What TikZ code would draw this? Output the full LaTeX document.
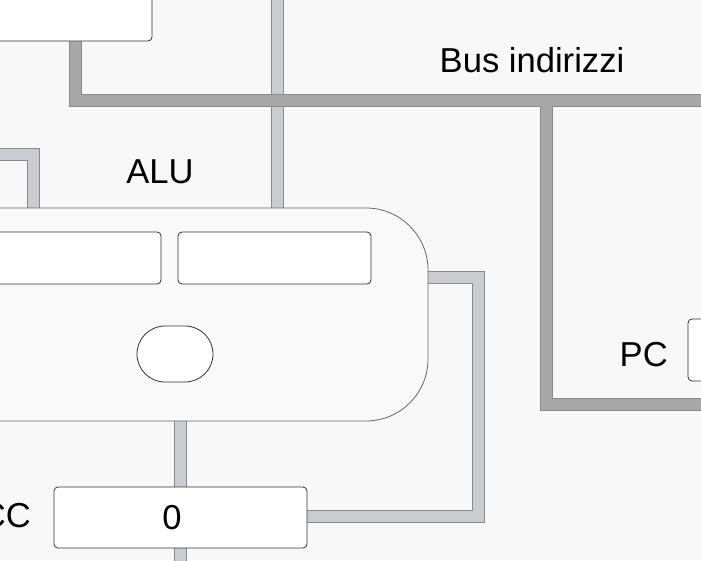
\documentclass[tikz,border=0pt]{standalone}
\usepackage{fontspec}
\setmainfont{Liberation Sans}
\definecolor{bg}{HTML}{F8F8F8}
\definecolor{alufill}{HTML}{F9F9F9}
\definecolor{busborder}{HTML}{8A8A8A}
\definecolor{lightbus}{HTML}{C9CDD1}
\definecolor{darkbus}{HTML}{A8A8A8}
\definecolor{boxline}{HTML}{333333}
\definecolor{aluline}{HTML}{666666}
\pgfdeclarelayer{bglayer}
\pgfdeclarelayer{buslayer}
\pgfsetlayers{bglayer,buslayer,main}
\begin{document}
\begin{tikzpicture}[x=1pt,y=-1pt,
  lbl/.style={inner sep=0pt,font=\fontsize{34.6}{40}\selectfont},
  regbox/.style={draw=boxline,fill=white,line width=0.8pt,rounded corners=4pt,inner sep=0pt,minimum width=#1},
  busedge/.style={line width=13pt,draw=busborder,line cap=butt,line join=miter},
  buslight/.style={line width=11pt,draw=lightbus,line cap=butt,line join=miter},
  busdark/.style={line width=11pt,draw=darkbus,line cap=butt,line join=miter}]
\useasboundingbox (0,0) rectangle (701,560);
\begin{pgfonlayer}{bglayer}
\fill[bg] (0,0) rectangle (701,560);
\end{pgfonlayer}
\clip (0,0) rectangle (701,560);

% nodes
\node[regbox=192pt,minimum height=81pt] (TL) at (56,0.5) {};
\node[draw=aluline,fill=alufill,line width=0.8pt,rounded corners=62pt,minimum width=488pt,minimum height=213pt,inner sep=0pt] (ALU) at (184,314.5) {};
\node[regbox=181pt,minimum height=52pt] (R1) at (70.5,258) {};
\node[regbox=193pt,minimum height=52pt] (R2) at (274.5,258) {};
\node[draw=boxline,fill=white,line width=0.8pt,rounded corners=28pt,minimum width=76pt,minimum height=56pt,inner sep=0pt] (OV) at (175,354) {};
\node[regbox=253pt,minimum height=61pt] (ACC) at (180.5,517.5) {};
\node[regbox=72pt,minimum height=62pt] (PC) at (724,350) {};

\node[lbl,anchor=base] (alulbl) at (160,183) {ALU};
\node[lbl,anchor=base] (buslbl) at (532,72) {Bus indirizzi};
\node[lbl,anchor=base east] (pclbl) at (668,366) {PC};
\node[lbl,anchor=base east] (acclbl) at (31,527) {ACC};
\node[lbl,anchor=base] (accval) at (172,529) {0};

% bus coordinates
\coordinate (dtop) at (277,-10);
\coordinate (lin) at (-10,154);
\coordinate (lc) at (33,154);
\coordinate (r1) at (428,277);
\coordinate (r2) at (478,277);
\coordinate (r3) at (478,516);
\coordinate (abot) at (180.5,570);
\coordinate (a0) at (75,41);
\coordinate (a1) at (75,100);
\coordinate (a2) at (720,100);
\coordinate (b0) at (546,100);
\coordinate (b1) at (546,404);
\coordinate (b2) at (720,404);

\begin{pgfonlayer}{buslayer}
\def\lightpaths{(dtop) -- (dtop |- ALU.north)
  (lin) -- (lc) -- (lc |- ALU.north)
  (ACC.north |- ALU.south) -- (ACC.north)
  (ACC.south) -- (abot)
  (r1) -- (r2) -- (r3) -- (ACC.east |- r3)}
\def\darkpaths{(a0) -- (a1) -- (a2)
  (b0) -- (b1) -- (b2)}
\draw[busedge] \lightpaths;
\draw[buslight] \lightpaths;
\draw[busedge] \darkpaths;
\draw[busdark] \darkpaths;
\end{pgfonlayer}
\end{tikzpicture}
\end{document}
